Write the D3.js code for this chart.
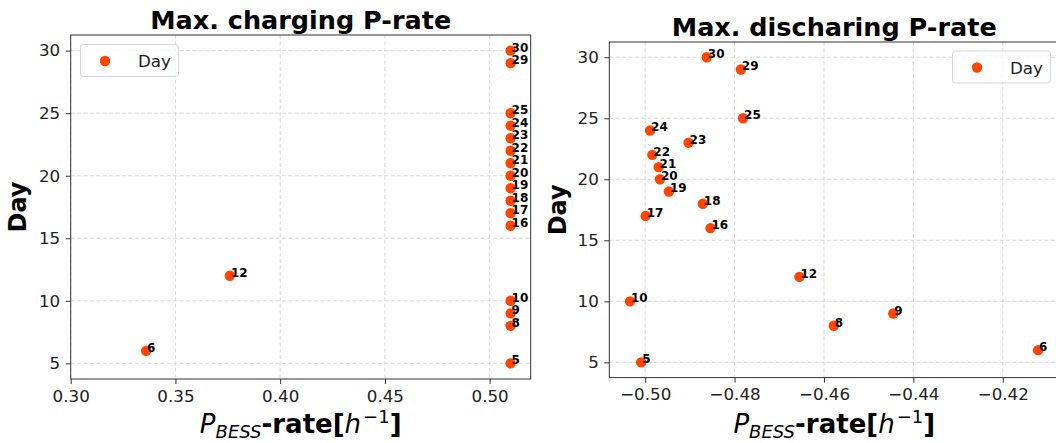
<!doctype html>
<html>
<head>
<meta charset="utf-8">
<script src="https://d3js.org/d3.v7.min.js"></script>
<style>
body { margin: 0; background: #fff; }
svg { display: block; font-family: "DejaVu Sans", sans-serif; }
.grid line { stroke: #d2d2d2; stroke-width: 0.8; stroke-dasharray: 4,2.4; }
.axis path, .axis line { stroke: #333; stroke-width: 1; }
.axis text { font-size: 16.7px; fill: #222; font-family: "DejaVu Sans", sans-serif; }
</style>
</head>
<body>
<svg width="1056" height="443"></svg>
<script>
// days shown in both panels
var days = [5, 6, 8, 9, 10, 12, 16, 17, 18, 19, 20, 21, 22, 23, 24, 25, 29, 30];

// max charging P-rate per day [1/h]
var chargeRate = [0.51, 0.336, 0.51, 0.51, 0.51, 0.376, 0.51, 0.51, 0.51, 0.51,
                  0.51, 0.51, 0.51, 0.51, 0.51, 0.51, 0.51, 0.51];

// max discharging P-rate per day [1/h]
var dischargeRate = [-0.5009, -0.4121, -0.4578, -0.4445, -0.5034, -0.4655, -0.4854, -0.4999,
                     -0.4871, -0.4947, -0.4967, -0.4970, -0.4984, -0.4903, -0.4989, -0.4781,
                     -0.4786, -0.4862];

var chargeTicks = [0.30, 0.35, 0.40, 0.45, 0.50];
var dischargeTicks = [-0.50, -0.48, -0.46, -0.44, -0.42];
var dayTicks = [5, 10, 15, 20, 25, 30];

var svg = d3.select("svg");
var color = "#ff4500";

var panels = [
  { title: "Max. charging P-rate", values: chargeRate, ticks: chargeTicks,
    xDomain: [0.30, 0.5196], box: [70.7, 530.7, 35, 379], legend: [80.5, 44.5],
    yLabelX: 26, titleY: 29 },
  { title: "Max. discharing P-rate", values: dischargeRate, ticks: dischargeTicks,
    xDomain: [-0.50803, -0.40737], box: [609.3, 1059.2, 42, 377.6], legend: [952.5, 51],
    yLabelX: 565.5, titleY: 35.5 }
];

function fmt(v) { return d3.format(".2f")(v).replace("-", "\u2212"); }

panels.forEach(function(p) {
  var x = d3.scaleLinear().domain(p.xDomain).range([p.box[0], p.box[1]]);
  var y = d3.scaleLinear().domain([3.75, 31.25]).range([p.box[3], p.box[2]]);
  var g = svg.append("g");
  var w = p.box[1] - p.box[0], h = p.box[3] - p.box[2];

  // grid
  var grid = g.append("g").attr("class", "grid");
  grid.selectAll(".gx").data(p.ticks).enter().append("line")
    .attr("x1", function(d) { return x(d); }).attr("x2", function(d) { return x(d); })
    .attr("y1", p.box[2]).attr("y2", p.box[3]);
  grid.selectAll(".gy").data(dayTicks).enter().append("line")
    .attr("y1", function(d) { return y(d); }).attr("y2", function(d) { return y(d); })
    .attr("x1", p.box[0]).attr("x2", p.box[1]);

  // frame
  g.append("rect").attr("x", p.box[0]).attr("y", p.box[2]).attr("width", w).attr("height", h)
    .attr("fill", "none").attr("stroke", "#333").attr("stroke-width", 1);

  g.append("g").attr("class", "axis")
    .attr("transform", "translate(0," + p.box[3] + ")")
    .call(d3.axisBottom(x).tickValues(p.ticks).tickFormat(fmt).tickSize(5).tickPadding(6))
    .call(function(a) { a.select(".domain").remove(); });
  g.append("g").attr("class", "axis")
    .attr("transform", "translate(" + p.box[0] + ",0)")
    .call(d3.axisLeft(y).tickValues(dayTicks).tickSize(5).tickPadding(5.5))
    .call(function(a) { a.select(".domain").remove(); });

  // points
  var pts = days.map(function(d, i) { return { day: d, v: p.values[i] }; });
  g.selectAll("circle.pt").data(pts).enter().append("circle")
    .attr("class", "pt")
    .attr("cx", function(d) { return x(d.v); })
    .attr("cy", function(d) { return y(d.day); })
    .attr("r", 5.2).attr("fill", color);
  g.selectAll("text.lbl").data(pts).enter().append("text")
    .attr("class", "lbl")
    .attr("x", function(d) { return x(d.v) + 1; })
    .attr("y", function(d) { return y(d.day) + 1; })
    .attr("font-size", 12).attr("font-weight", "bold").attr("fill", "#000")
    .text(function(d) { return d.day; });

  // title
  svg.append("text").attr("x", (p.box[0] + p.box[1]) / 2).attr("y", p.titleY)
    .attr("text-anchor", "middle").attr("font-size", 25.5).attr("font-weight", "bold")
    .text(p.title);

  // y label
  svg.append("text")
    .attr("transform", "translate(" + p.yLabelX + "," + ((p.box[2] + p.box[3]) / 2) + ") rotate(-90)")
    .attr("text-anchor", "middle").attr("font-size", 24).attr("font-weight", "bold")
    .text("Day");

  // x label: P_BESS-rate[h^-1]
  var xl = svg.append("text").attr("x", (p.box[0] + p.box[1]) / 2).attr("y", 433)
    .attr("text-anchor", "middle").attr("font-size", 26);
  xl.append("tspan").attr("font-style", "italic").text("P");
  xl.append("tspan").attr("font-style", "italic").attr("font-size", 18).attr("dy", 5).text("BESS");
  xl.append("tspan").attr("font-weight", "bold").attr("dy", -5).text("-rate[");
  xl.append("tspan").attr("font-style", "italic").text("h");
  xl.append("tspan").attr("font-size", 18).attr("dy", -10).attr("dx", 2).text("\u22121");
  xl.append("tspan").attr("font-weight", "bold").attr("dy", 10).text("]");

  // legend
  var lg = g.append("g").attr("transform", "translate(" + p.legend[0] + "," + p.legend[1] + ")");
  lg.append("rect").attr("width", 98).attr("height", 32).attr("rx", 3)
    .attr("fill", "#fff").attr("fill-opacity", 0.8).attr("stroke", "#d6d6d6");
  lg.append("circle").attr("cx", 24.5).attr("cy", 16.5).attr("r", 5.2).attr("fill", color);
  lg.append("text").attr("x", 57.5).attr("y", 22.5).attr("font-size", 16.7).attr("fill", "#222").text("Day");
});
</script>
</body>
</html>
